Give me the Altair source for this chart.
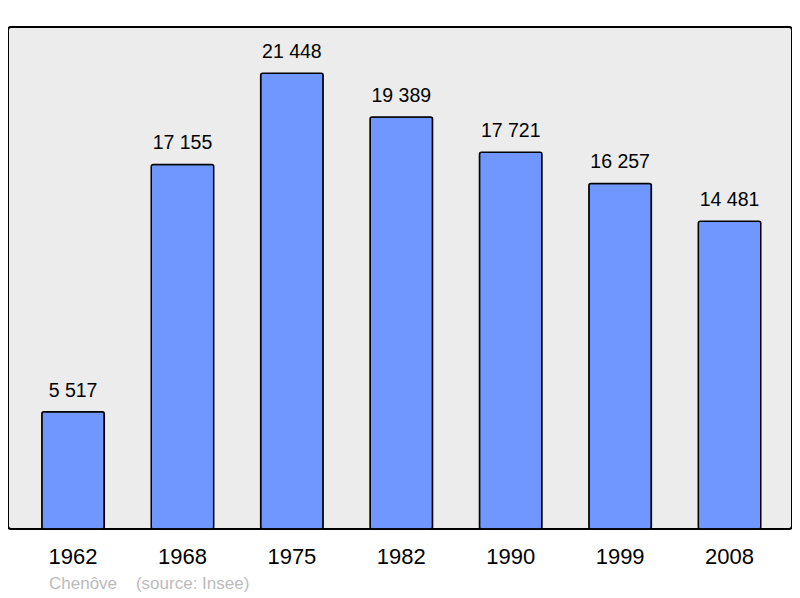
import altair as alt
import pandas as pd

years = ["1962", "1968", "1975", "1982", "1990", "1999", "2008"]
population = [5517, 17155, 21448, 19389, 17721, 16257, 14481]
labels = ["5 517", "17 155", "21 448", "19 389", "17 721", "16 257", "14 481"]

df = pd.DataFrame({"year": years, "pop": population, "label": labels})

FONT = "Liberation Sans"

x = alt.X("year:O", sort=years,
          scale=alt.Scale(paddingInner=0.429, paddingOuter=0.3, range=[1, 785.6]),
          axis=alt.Axis(title=None, labelAngle=0, labelFontSize=22, labelFont=FONT,
                        labelColor="black", ticks=False, domain=False, labelPadding=17))
y = alt.Y("pop:Q", scale=alt.Scale(domain=[0, 23620], nice=False, zero=True), axis=None)

bars = alt.Chart(df).mark_bar(color="#7097ff", stroke="black", strokeWidth=1.5,
                              cornerRadius=2).encode(x=x, y=y)
text = alt.Chart(df).mark_text(fontSize=19.5, font=FONT, color="black", baseline="alphabetic",
                               dy=-15).encode(x=x, y=y, text="label:N")

chart = alt.layer(bars, text).properties(
    width=784, height=502,
    autosize=alt.AutoSizeParams(type="none"),
    padding={"left": 0, "top": 19, "right": 0, "bottom": 69},
    title=alt.TitleParams("Chenôve\u00a0\u00a0\u00a0\u00a0(source: Insee)", orient="bottom",
                          anchor="start", fontSize=17, font=FONT, color="#bbbbbb",
                          fontWeight="normal", dx=41, offset=9),
).configure_view(fill="#ececec", stroke="black", strokeWidth=2, cornerRadius=3)

chart.save("out.html", embed_options={"renderer": "svg", "actions": False})
